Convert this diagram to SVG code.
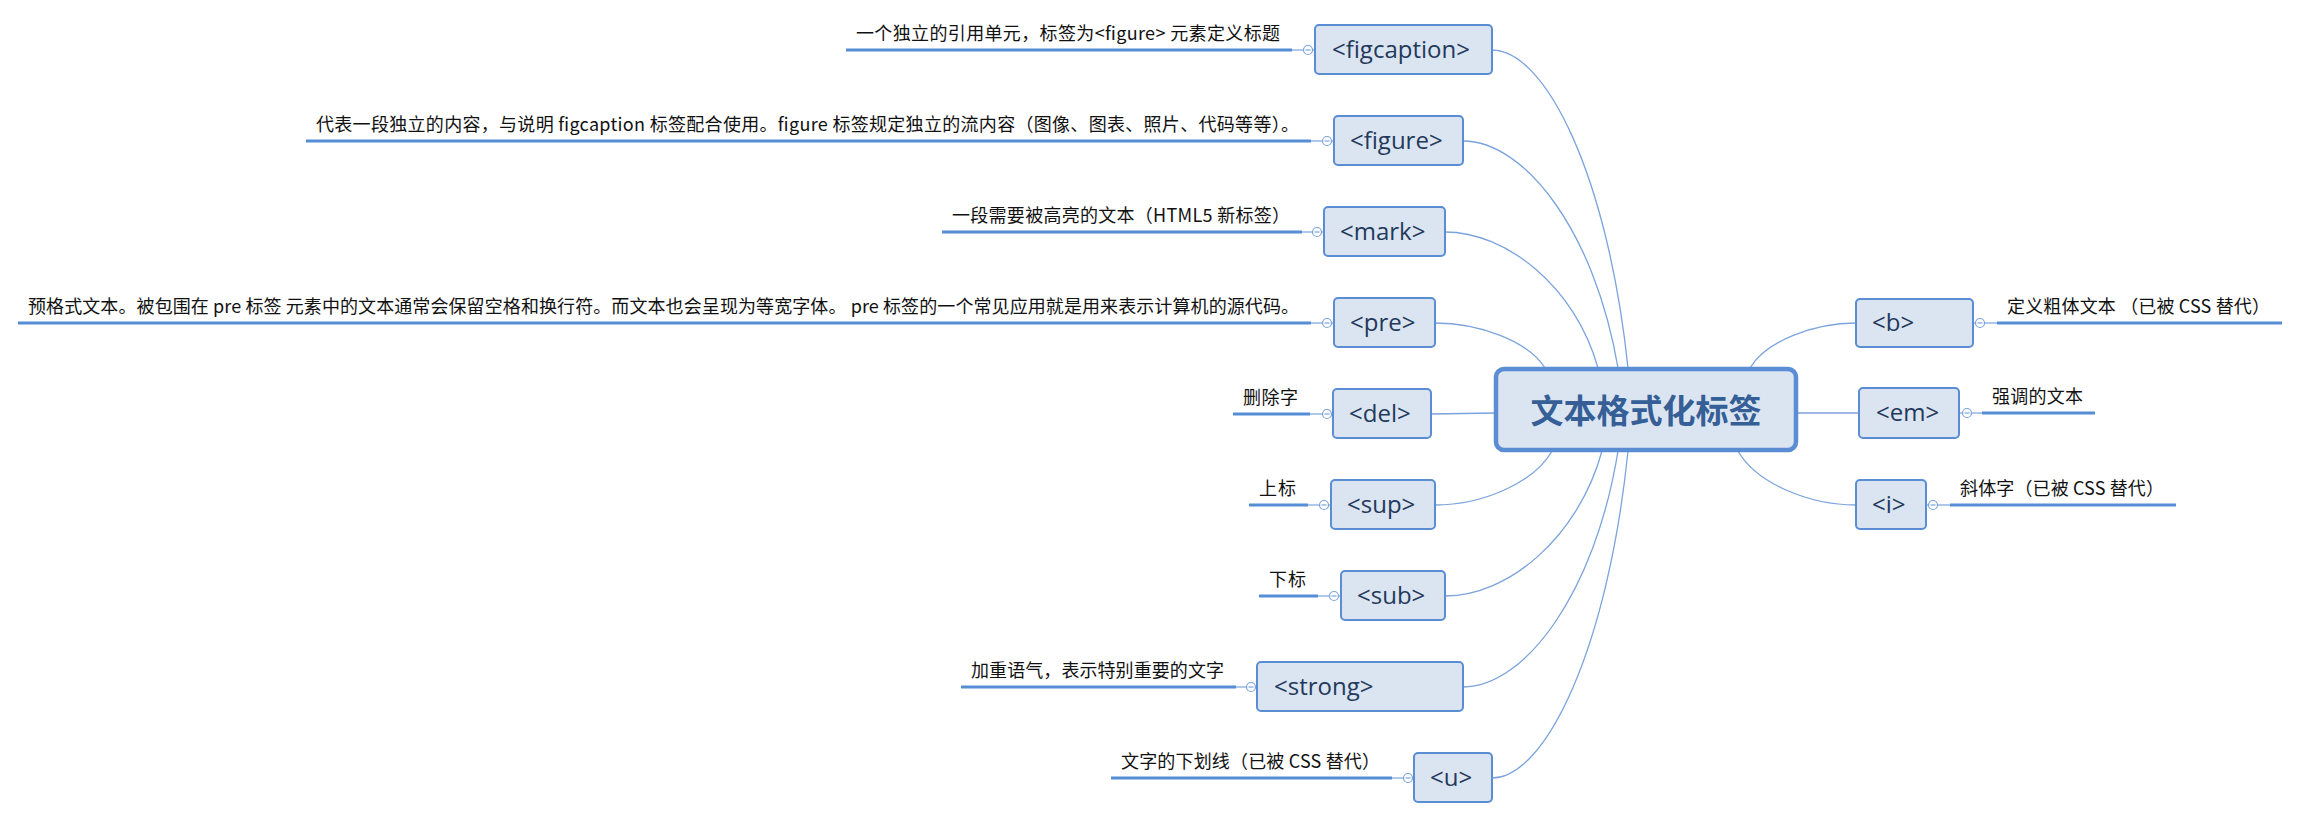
<svg xmlns="http://www.w3.org/2000/svg" width="2300" height="819" viewBox="0 0 2300 819">
<style>
.bg{fill:#ffffff}
.box{fill:#dbe5f1;stroke:#5a8dd3;stroke-width:2}
.central{fill:#dbe5f1;stroke:#5a8dd3;stroke-width:4.5}
.ntext{font-family:"Open Sans","Noto Sans",sans-serif;font-size:24px;fill:#23395b}
.ctext{font-family:"Noto Sans CJK SC","Noto Sans",sans-serif;font-size:33px;font-weight:bold;fill:#355f96;text-anchor:middle}
.label{font-family:"Noto Sans CJK SC","Noto Sans",sans-serif;font-size:18px;fill:#111111}
.uline{stroke:#558ed5;stroke-width:3.2;fill:none}
.thin{stroke:#7ba3dc;stroke-width:1.2;fill:none}
.conn{stroke:#7ba3dc;stroke-width:1.3;fill:none}
.knob{fill:#ffffff;stroke:#7ba3dc;stroke-width:1.2}
</style>
<rect class="bg" x="0" y="0" width="2300" height="819"/>
<g id="connectors">
<path class="conn" d="M1492,50 C1546,50 1608,177 1628,368"/>
<path class="conn" d="M1463,141 C1525,141 1595,232 1618,368"/>
<path class="conn" d="M1445,232 C1506,232 1575,286 1598,368"/>
<path class="conn" d="M1435,323 C1479,323 1528,341 1545,368"/>
<path class="conn" d="M1431,414 L1496,413"/>
<path class="conn" d="M1435,505 C1482,505 1534,483 1552,451"/>
<path class="conn" d="M1445,596 C1508,596 1578,538 1602,451"/>
<path class="conn" d="M1463,687 C1525,687 1595,593 1618,451"/>
<path class="conn" d="M1492,778 C1546,778 1608,647 1628,451"/>
<path class="conn" d="M1856,323 C1814,323 1766,341 1750,368"/>
<path class="conn" d="M1859,413 L1797,413"/>
<path class="conn" d="M1856,505 C1809,505 1756,483 1738,451"/>
</g>
<g id="node-central">
<rect class="central" x="1496" y="369" width="300" height="81" rx="8"/>
<text class="ctext" x="1646" y="423">文本格式化标签</text>
</g>
<g id="node-figcaption">
<line class="uline" x1="846" y1="50" x2="1292" y2="50"/>
<line class="thin" x1="1292" y1="50" x2="1315" y2="50"/>
<circle class="knob" cx="1308" cy="50" r="4.5"/><line class="thin" x1="1305.5" y1="50" x2="1310.5" y2="50"/>
<text class="label" x="856" y="40" textLength="424" lengthAdjust="spacing">一个独立的引用单元，标签为&lt;figure&gt; 元素定义标题</text>
<rect class="box" x="1315" y="25" width="177" height="49" rx="4"/>
<text class="ntext" x="1332" y="58">&lt;figcaption&gt;</text>
</g>
<g id="node-figure">
<line class="uline" x1="306" y1="141" x2="1311" y2="141"/>
<line class="thin" x1="1311" y1="141" x2="1334" y2="141"/>
<circle class="knob" cx="1327" cy="141" r="4.5"/><line class="thin" x1="1324.5" y1="141" x2="1329.5" y2="141"/>
<text class="label" x="316" y="131" textLength="983" lengthAdjust="spacing">代表一段独立的内容，与说明 figcaption 标签配合使用。figure 标签规定独立的流内容（图像、图表、照片、代码等等）。</text>
<rect class="box" x="1334" y="116" width="129" height="49" rx="4"/>
<text class="ntext" x="1350" y="149">&lt;figure&gt;</text>
</g>
<g id="node-mark">
<line class="uline" x1="942" y1="232" x2="1302" y2="232"/>
<line class="thin" x1="1302" y1="232" x2="1324" y2="232"/>
<circle class="knob" cx="1317" cy="232" r="4.5"/><line class="thin" x1="1314.5" y1="232" x2="1319.5" y2="232"/>
<text class="label" x="952" y="222" textLength="338" lengthAdjust="spacing">一段需要被高亮的文本（HTML5 新标签）</text>
<rect class="box" x="1324" y="207" width="121" height="49" rx="4"/>
<text class="ntext" x="1340" y="240">&lt;mark&gt;</text>
</g>
<g id="node-pre">
<line class="uline" x1="18" y1="323" x2="1311" y2="323"/>
<line class="thin" x1="1311" y1="323" x2="1334" y2="323"/>
<circle class="knob" cx="1327" cy="323" r="4.5"/><line class="thin" x1="1324.5" y1="323" x2="1329.5" y2="323"/>
<text class="label" x="28" y="313" textLength="1271" lengthAdjust="spacing">预格式文本。被包围在 pre 标签 元素中的文本通常会保留空格和换行符。而文本也会呈现为等宽字体。 pre 标签的一个常见应用就是用来表示计算机的源代码。</text>
<rect class="box" x="1334" y="298" width="101" height="49" rx="4"/>
<text class="ntext" x="1350" y="331">&lt;pre&gt;</text>
</g>
<g id="node-del">
<line class="uline" x1="1233" y1="414" x2="1310" y2="414"/>
<line class="thin" x1="1310" y1="414" x2="1333" y2="414"/>
<circle class="knob" cx="1327" cy="414" r="4.5"/><line class="thin" x1="1324.5" y1="414" x2="1329.5" y2="414"/>
<text class="label" x="1243" y="404" textLength="55" lengthAdjust="spacing">删除字</text>
<rect class="box" x="1333" y="389" width="98" height="49" rx="4"/>
<text class="ntext" x="1349" y="422">&lt;del&gt;</text>
</g>
<g id="node-sup">
<line class="uline" x1="1249" y1="505" x2="1308" y2="505"/>
<line class="thin" x1="1308" y1="505" x2="1331" y2="505"/>
<circle class="knob" cx="1324" cy="505" r="4.5"/><line class="thin" x1="1321.5" y1="505" x2="1326.5" y2="505"/>
<text class="label" x="1259" y="495" textLength="37" lengthAdjust="spacing">上标</text>
<rect class="box" x="1331" y="480" width="104" height="49" rx="4"/>
<text class="ntext" x="1347" y="513">&lt;sup&gt;</text>
</g>
<g id="node-sub">
<line class="uline" x1="1259" y1="596" x2="1318" y2="596"/>
<line class="thin" x1="1318" y1="596" x2="1341" y2="596"/>
<circle class="knob" cx="1334" cy="596" r="4.5"/><line class="thin" x1="1331.5" y1="596" x2="1336.5" y2="596"/>
<text class="label" x="1269" y="586" textLength="37" lengthAdjust="spacing">下标</text>
<rect class="box" x="1341" y="571" width="104" height="49" rx="4"/>
<text class="ntext" x="1357" y="604">&lt;sub&gt;</text>
</g>
<g id="node-strong">
<line class="uline" x1="961" y1="687" x2="1236" y2="687"/>
<line class="thin" x1="1236" y1="687" x2="1257" y2="687"/>
<circle class="knob" cx="1251" cy="687" r="4.5"/><line class="thin" x1="1248.5" y1="687" x2="1253.5" y2="687"/>
<text class="label" x="971" y="677" textLength="253" lengthAdjust="spacing">加重语气，表示特别重要的文字</text>
<rect class="box" x="1257" y="662" width="206" height="49" rx="4"/>
<text class="ntext" x="1274" y="695">&lt;strong&gt;</text>
</g>
<g id="node-u">
<line class="uline" x1="1111" y1="778" x2="1392" y2="778"/>
<line class="thin" x1="1392" y1="778" x2="1414" y2="778"/>
<circle class="knob" cx="1408" cy="778" r="4.5"/><line class="thin" x1="1405.5" y1="778" x2="1410.5" y2="778"/>
<text class="label" x="1121" y="768" textLength="259" lengthAdjust="spacing">文字的下划线（已被 CSS 替代）</text>
<rect class="box" x="1414" y="753" width="78" height="49" rx="4"/>
<text class="ntext" x="1430" y="786">&lt;u&gt;</text>
</g>
<g id="node-b">
<line class="thin" x1="1973" y1="323" x2="1997" y2="323"/>
<line class="uline" x1="1997" y1="323" x2="2282" y2="323"/>
<circle class="knob" cx="1980" cy="323" r="4.5"/><line class="thin" x1="1977.5" y1="323" x2="1982.5" y2="323"/>
<text class="label" x="2007" y="313" textLength="263" lengthAdjust="spacing">定义粗体文本 （已被 CSS 替代）</text>
<rect class="box" x="1856" y="299" width="117" height="48" rx="4"/>
<text class="ntext" x="1872" y="331">&lt;b&gt;</text>
</g>
<g id="node-em">
<line class="thin" x1="1959" y1="413" x2="1982" y2="413"/>
<line class="uline" x1="1982" y1="413" x2="2095" y2="413"/>
<circle class="knob" cx="1967" cy="413" r="4.5"/><line class="thin" x1="1964.5" y1="413" x2="1969.5" y2="413"/>
<text class="label" x="1992" y="403" textLength="91" lengthAdjust="spacing">强调的文本</text>
<rect class="box" x="1859" y="388" width="100" height="50" rx="4"/>
<text class="ntext" x="1876" y="421">&lt;em&gt;</text>
</g>
<g id="node-i">
<line class="thin" x1="1926" y1="505" x2="1950" y2="505"/>
<line class="uline" x1="1950" y1="505" x2="2176" y2="505"/>
<circle class="knob" cx="1933" cy="505" r="4.5"/><line class="thin" x1="1930.5" y1="505" x2="1935.5" y2="505"/>
<text class="label" x="1960" y="495" textLength="204" lengthAdjust="spacing">斜体字（已被 CSS 替代）</text>
<rect class="box" x="1856" y="480" width="70" height="49" rx="4"/>
<text class="ntext" x="1872" y="513">&lt;i&gt;</text>
</g>
</svg>
